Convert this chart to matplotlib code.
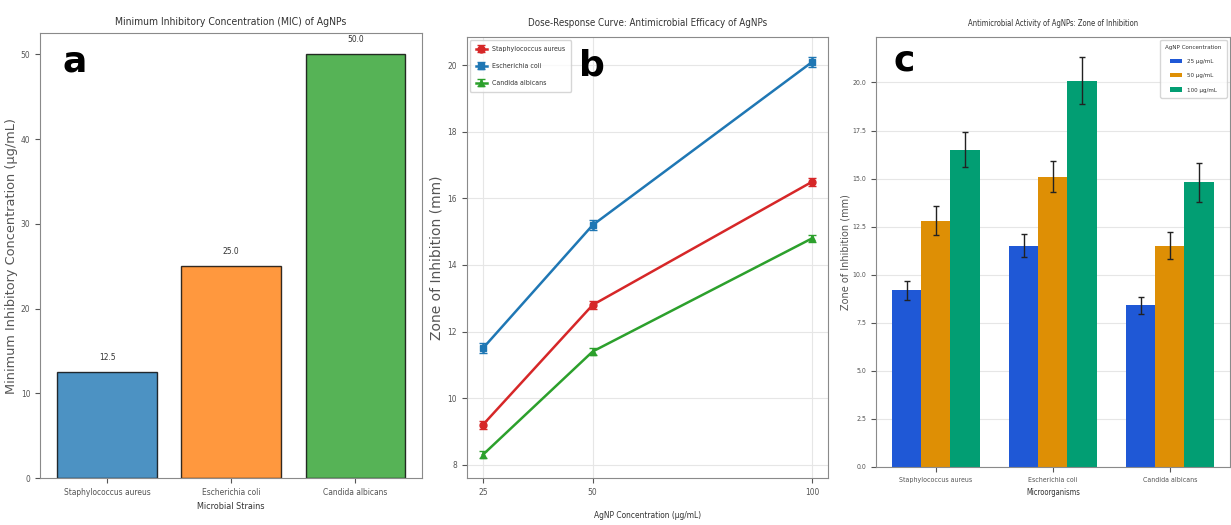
import numpy as np
import matplotlib.pyplot as plt

# Dados
strains = ['Staphylococcus aureus', 'Escherichia coli', 'Candida albicans']
mic_values = [12.5, 25.0, 50.0]

concentrations = [25, 50, 100]
zone_staph = [9.2, 12.8, 16.5]
zone_ecoli = [11.5, 15.2, 20.1]
zone_candida = [8.3, 11.4, 14.8]
err_staph = [0.12, 0.12, 0.12]
err_ecoli = [0.15, 0.15, 0.15]
err_candida = [0.1, 0.1, 0.1]

conc_labels = ['25 µg/mL', '50 µg/mL', '100 µg/mL']
zone_25 = [9.2, 11.5, 8.4]
zone_50 = [12.8, 15.1, 11.5]
zone_100 = [16.5, 20.1, 14.8]
sd_25 = [0.5, 0.6, 0.45]
sd_50 = [0.75, 0.8, 0.7]
sd_100 = [0.9, 1.2, 1.0]

plt.rcParams['font.family'] = ['DejaVu Sans']
plt.rcParams['font.stretch'] = 'condensed'
plt.rcParams['axes.edgecolor'] = '#8a8a8a'
plt.rcParams['xtick.color'] = '#555555'
plt.rcParams['ytick.color'] = '#555555'
plt.rcParams['text.color'] = '#333333'
plt.rcParams['axes.labelcolor'] = '#333333'

fig = plt.figure(figsize=(12.31, 5.25), dpi=100)
ax1 = fig.add_axes([0.0325, 0.0895, 0.3105, 0.8475])
ax2 = fig.add_axes([0.379, 0.0895, 0.294, 0.84])
ax3 = fig.add_axes([0.7115, 0.1105, 0.2875, 0.819])

# --- a: MIC ---
bar_colors = ['tab:blue', 'tab:orange', 'tab:green']
bars = ax1.bar(strains, mic_values, color=bar_colors, alpha=0.8,
               edgecolor='black', linewidth=1, width=0.8)
for b, v in zip(bars, mic_values):
    ax1.text(b.get_x() + b.get_width() / 2, v + 1.2, f'{v:.1f}',
             ha='center', va='bottom', fontsize=6)
ax1.set_title('Minimum Inhibitory Concentration (MIC) of AgNPs', fontsize=7.5, pad=6)
ax1.set_xlabel('Microbial Strains', fontsize=6.5, labelpad=4)
ax1.set_ylabel('Minimum Inhibitory Concentration (µg/mL)', fontsize=9.3,
               fontstretch='normal', color='#555555', labelpad=2)
ax1.tick_params(labelsize=6)
ax1.text(0.06, 0.975, 'a', transform=ax1.transAxes, fontsize=26, color='black',
         fontweight='bold', fontstretch='normal', va='top', zorder=10)

# --- b: dose-response ---
ax2.errorbar(concentrations, zone_staph, yerr=err_staph, color='tab:red',
             marker='o', markersize=5, linewidth=1.8, capsize=3,
             label='Staphylococcus aureus')
ax2.errorbar(concentrations, zone_ecoli, yerr=err_ecoli, color='tab:blue',
             marker='s', markersize=5, linewidth=1.8, capsize=3,
             label='Escherichia coli')
ax2.errorbar(concentrations, zone_candida, yerr=err_candida, color='tab:green',
             marker='^', markersize=5, linewidth=1.8, capsize=3,
             label='Candida albicans')
ax2.set_xticks(concentrations)
ax2.set_title('Dose-Response Curve: Antimicrobial Efficacy of AgNPs', fontsize=7, pad=8)
ax2.set_xlabel('AgNP Concentration (µg/mL)', fontsize=6, labelpad=10)
ax2.set_ylabel('Zone of Inhibition (mm)', fontsize=10, fontstretch='normal',
               color='#555555', labelpad=3)
ax2.tick_params(labelsize=6)
ax2.grid(True, color='#e6e6e6', linewidth=0.8)
ax2.legend(loc='upper left', fontsize=5, framealpha=0.8, labelspacing=1.6,
           handlelength=1.6, borderpad=0.8)
ax2.text(0.31, 0.975, 'b', transform=ax2.transAxes, fontsize=26, color='black',
         fontweight='bold', fontstretch='normal', va='top', zorder=10)

# --- c: grouped bars ---
x = np.arange(len(strains))
w = 0.25
c_colors = ['#1f58d6', '#de8f05', '#029e73']
for i, (vals, sd, lab) in enumerate(zip([zone_25, zone_50, zone_100],
                                        [sd_25, sd_50, sd_100], conc_labels)):
    ax3.bar(x + (i - 1) * w, vals, w, yerr=sd, capsize=2, color=c_colors[i],
            label=lab, error_kw=dict(ecolor='#222222', elinewidth=1))
ax3.set_xticks(x)
ax3.set_xticklabels(strains)
ax3.set_yticks(np.arange(0, 20.1, 2.5))
ax3.set_title('Antimicrobial Activity of AgNPs: Zone of Inhibition', fontsize=5.5, pad=8)
ax3.set_xlabel('Microorganisms', fontsize=5.5)
ax3.set_ylabel('Zone of Inhibition (mm)', fontsize=7, fontstretch='normal',
               color='#555555', labelpad=1)
ax3.tick_params(labelsize=5)
ax3.yaxis.set_major_formatter(plt.FormatStrFormatter('%.1f'))
ax3.grid(True, axis='y', color='#e6e6e6', linewidth=0.8)
ax3.set_axisbelow(True)
ax3.legend(title='AgNP Concentration', loc='upper right', fontsize=4.5,
           title_fontsize=4.5, labelspacing=1.4, borderpad=0.8)
ax3.text(0.05, 0.985, 'c', transform=ax3.transAxes, fontsize=26, color='black',
         fontweight='bold', fontstretch='normal', va='top', zorder=10)

fig.savefig('out.png', dpi=100)
